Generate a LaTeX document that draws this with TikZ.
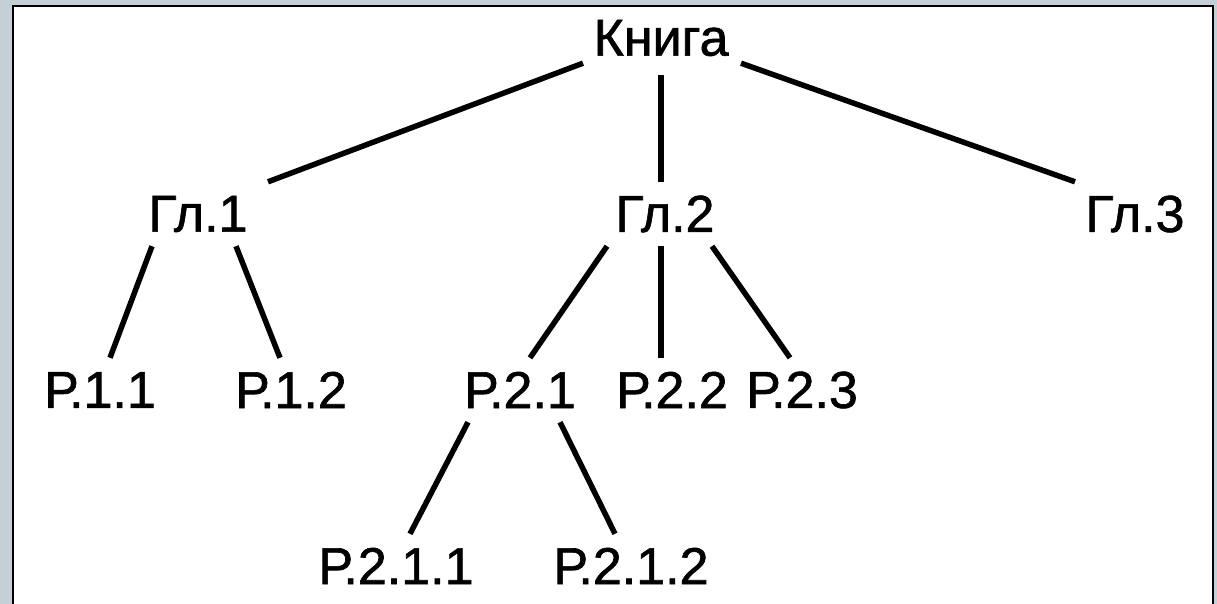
\documentclass[tikz,border=0pt]{standalone}
\usepackage{fontspec}
\setmainfont[FakeBold=1.2]{Liberation Sans}
\usetikzlibrary{positioning}
\definecolor{panelgray}{RGB}{197,208,214}

\begin{document}
\begin{tikzpicture}[
    x=1pt, y=1pt,
    node distance=176pt,
    font=\fontsize{52}{60}\selectfont,
    % Node styles:
    part/.style={rectangle, inner sep=0pt, minimum height=64pt},
    title/.style={part, minimum height=50pt},
    % Branch style:
    branch/.style={line width=5.5pt},
]
% --- FRAME ---
\useasboundingbox (0,0) rectangle (1217,604);
\fill[panelgray] (0,0) rectangle (1217,604);
\fill[white] (13,-5) rectangle (1213,598);
\draw[line width=2pt] (13,-5) |- (1213,598) -- (1213,-5);

% --- NODES ---
\node[title] (book) at (661,566) {Книга};
% chapters
\node[part, below of=book, xshift=-463pt] (ch1) {Гл.1};
\node[part, below of=book, xshift=4pt]    (ch2) {Гл.2};
\node[part, below of=book, xshift=474pt]  (ch3) {Гл.3};
% sections
\node[part, below of=ch1, xshift=-98pt]  (s11) {Р.1.1};
\node[part, below of=ch1, xshift=93pt]   (s12) {Р.1.2};
\node[part, below of=ch2, xshift=-145pt] (s21) {Р.2.1};
\node[part, below of=ch2, xshift=7pt]    (s22) {Р.2.2};
\node[part, below of=ch2, xshift=137pt]  (s23) {Р.2.3};
% subsections of Р.2.1
\node[part, below of=s21, xshift=-124pt] (s211) {Р.2.1.1};
\node[part, below of=s21, xshift=111pt]  (s212) {Р.2.1.2};

% --- BRANCHES ---
% book -> chapters
\draw[branch] ([xshift=-78pt]book.south) -- ([xshift=70pt]ch1.north);
\draw[branch, shorten <=12pt] (book.south) -- (book.south |- ch2.north);
\draw[branch] ([xshift=80pt]book.south) -- ([xshift=-60pt]ch3.north);

% chapter 1 -> sections
\draw[branch] ([xshift=-46pt]ch1.south) -- ([xshift=10pt]s11.north);
\draw[branch] ([xshift=38pt]ch1.south)  -- ([xshift=-11pt]s12.north);

% chapter 2 -> sections
\draw[branch] ([xshift=-58pt]ch2.south) -- ([xshift=10pt]s21.north);
\draw[branch] ([xshift=-4pt]ch2.south)  -- ([xshift=-11pt]s22.north);
\draw[branch] ([xshift=47pt]ch2.south)  -- ([xshift=-12pt]s23.north);

% section 2.1 -> subsections
\draw[branch] ([xshift=-52pt]s21.south) -- ([xshift=14pt]s211.north);
\draw[branch] ([xshift=40pt]s21.south)  -- ([xshift=-16pt]s212.north);

\end{tikzpicture}
\end{document}
